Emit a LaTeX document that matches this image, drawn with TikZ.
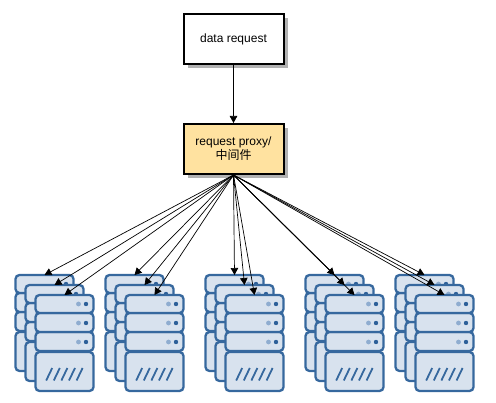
\documentclass[tikz,border=0pt]{standalone}
\usepackage{fontspec}
\setmainfont{Liberation Sans}
\newfontfamily\cjk{Noto Sans CJK SC}
\usetikzlibrary{arrows.meta,shadows}
\definecolor{srvline}{HTML}{36689E}
\definecolor{srvfill}{HTML}{D8E2EE}
\definecolor{srvsoft}{HTML}{8FADD0}
\definecolor{srvdark}{HTML}{2E6099}
\definecolor{proxyfill}{HTML}{FFE2A0}
\tikzset{
  x=1pt,y=-1pt,
  procbox/.style={draw=black,line width=2pt,minimum width=100pt,minimum height=50pt,align=center,inner sep=0pt,
    font=\fontsize{12}{14}\selectfont,
    drop shadow={shadow xshift=4.5pt,shadow yshift=-4.5pt,fill=black!30,opacity=1}},
  unitbox/.style={draw=srvline,fill=srvfill,line width=2.3pt,rounded corners=4pt,anchor=north west,minimum width=58pt,inner sep=0pt,outer sep=0pt},
  link/.style={draw=black,line width=.7pt,-{Triangle[length=7pt,width=7.5pt]}},
  server/.pic={
    \node[unitbox,minimum height=39pt] at (0,57) {};
    \node[unitbox,minimum height=19pt] at (0,37) {};
    \node[unitbox,minimum height=19pt] at (0,18) {};
    \node[unitbox,minimum height=18pt] (-top) at (0,0) {};
    \foreach \yy in {9,28,47}{
      \fill[srvsoft] (43,\yy) circle (2.4pt);
      \fill[srvdark] (50.5,\yy) circle (2.2pt);
    }
    \foreach \xx in {0,7.6,15.2,22.8,30.4}{
      \draw[srvline,line width=1.8pt] (10.7+\xx,85.5) -- (16.7+\xx,73);
    }
  }
}
\begin{document}
\begin{tikzpicture}
\useasboundingbox (0,0) rectangle (496,403);
\node[procbox,fill=white] (req) at (233.5,39) {data request};
\node[procbox,fill=proxyfill] (proxy) at (233.5,149) {request proxy/\\{\cjk 中间件}};
\foreach \g/\gx in {a/15.5,b/105.5,c/205.5,d/305.5,e/395.5}{
  \pic (\g1) at (\gx,275) {server};
  \pic (\g2) at (\gx+10,285) {server};
  \pic (\g3) at (\gx+20,295) {server};
}
\draw[link] (req) -- (proxy);
\foreach \g in {a,b,c,d,e}{
  \foreach \n in {1,2,3}{
    \draw[link] (proxy.south) -- (\g\n-top.north);
  }
}
\end{tikzpicture}
\end{document}
